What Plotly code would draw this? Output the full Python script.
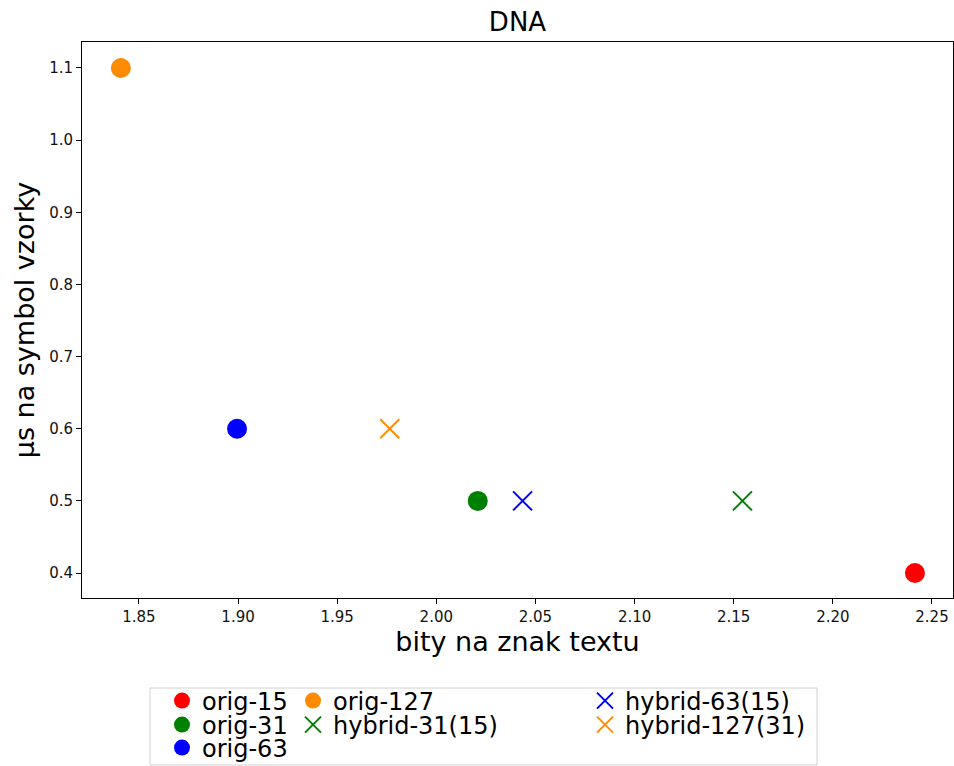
import plotly.graph_objects as go

names = ["orig-15", "orig-31", "orig-63", "orig-127", "hybrid-31(15)", "hybrid-63(15)", "hybrid-127(31)"]
x_vals = [2.2414, 2.0209, 1.8995, 1.8409, 2.1544, 2.0435, 1.9765]
y_vals = [0.4, 0.5, 0.6, 1.1, 0.5, 0.5, 0.6]
colors = ["#ff0000", "#008000", "#0000ff", "#ff8c00", "#008000", "#0000ff", "#ff8c00"]
symbols = ["circle", "circle", "circle", "circle", "x-thin", "x-thin", "x-thin"]

W, H = 954, 766
ml, mr, mt, mb = 82, 1, 42, 168
pw, ph = W - ml - mr, H - mt - mb

def px2x(px):
    return (px - ml) / pw

def py2y(py):
    return (H - mb - py) / ph

# legend slot (column-major, 3 rows): (left px, row-center px)
col_x = [162, 293, 585]
row_y = [701, 725, 748]
slots = [(col_x[0], row_y[0]), (col_x[0], row_y[1]), (col_x[0], row_y[2]),
         (col_x[1], row_y[0]), (col_x[1], row_y[1]),
         (col_x[2], row_y[0]), (col_x[2], row_y[1])]

font = "DejaVu Sans"
fig = go.Figure()
legends = {}
for i, (n, xv, yv, c, s) in enumerate(zip(names, x_vals, y_vals, colors, symbols)):
    lid = "legend" if i == 0 else f"legend{i + 1}"
    if s == "circle":
        marker = dict(symbol=s, size=20, color=c, line=dict(width=0))
    else:
        marker = dict(symbol=s, size=19, color=c, line=dict(width=2, color=c))
    fig.add_trace(go.Scatter(x=[xv], y=[yv], mode="markers", name=n, marker=marker,
                             legend=lid, showlegend=True))
    lx, ly = slots[i]
    legends[lid] = dict(x=px2x(lx), y=py2y(ly), xanchor="left", yanchor="middle",
                        font=dict(family=font, size=24, color="black"), bgcolor="rgba(0,0,0,0)",
                        itemsizing="trace", borderwidth=0, visible=True)

fig.update_layout(
    width=W, height=H,
    showlegend=True,
    margin=dict(l=ml, r=mr, t=mt, b=mb, autoexpand=False),
    paper_bgcolor="white", plot_bgcolor="white",
    font=dict(family=font, color="black"),
    title=dict(text="DNA", x=(ml + pw / 2) / W, xanchor="center", y=1 - 22 / H, yanchor="middle",
               font=dict(family=font, size=26, color="black")),
    xaxis=dict(range=[1.8213, 2.2606], tickvals=[1.85, 1.90, 1.95, 2.00, 2.05, 2.10, 2.15, 2.20, 2.25],
               ticktext=["1.85", "1.90", "1.95", "2.00", "2.05", "2.10", "2.15", "2.20", "2.25"],
               showgrid=False, zeroline=False, showline=True, linecolor="black", linewidth=1, mirror=True,
               ticks="outside", ticklen=5, tickcolor="black", tickfont=dict(family=font, size=15, color="#111"),
               title=dict(text="bity na znak textu", font=dict(family=font, size=27), standoff=6)),
    yaxis=dict(range=[0.3654, 1.136], tickvals=[0.4, 0.5, 0.6, 0.7, 0.8, 0.9, 1.0, 1.1],
               ticktext=["0.4", "0.5", "0.6", "0.7", "0.8", "0.9", "1.0", "1.1"],
               showgrid=False, zeroline=False, showline=True, linecolor="black", linewidth=1, mirror=True,
               ticks="outside", ticklen=5, tickcolor="black", tickfont=dict(family=font, size=15, color="#111"),
               title=dict(text="µs na symbol vzorky", font=dict(family=font, size=27), standoff=6)),
    shapes=[dict(type="rect", xref="paper", yref="paper",
                 x0=px2x(150), x1=px2x(817), y0=py2y(765), y1=py2y(688),
                 line=dict(color="#d0d0d0", width=1), fillcolor="rgba(0,0,0,0)", layer="below")],
    **legends,
)
fig.write_html("out.html")
